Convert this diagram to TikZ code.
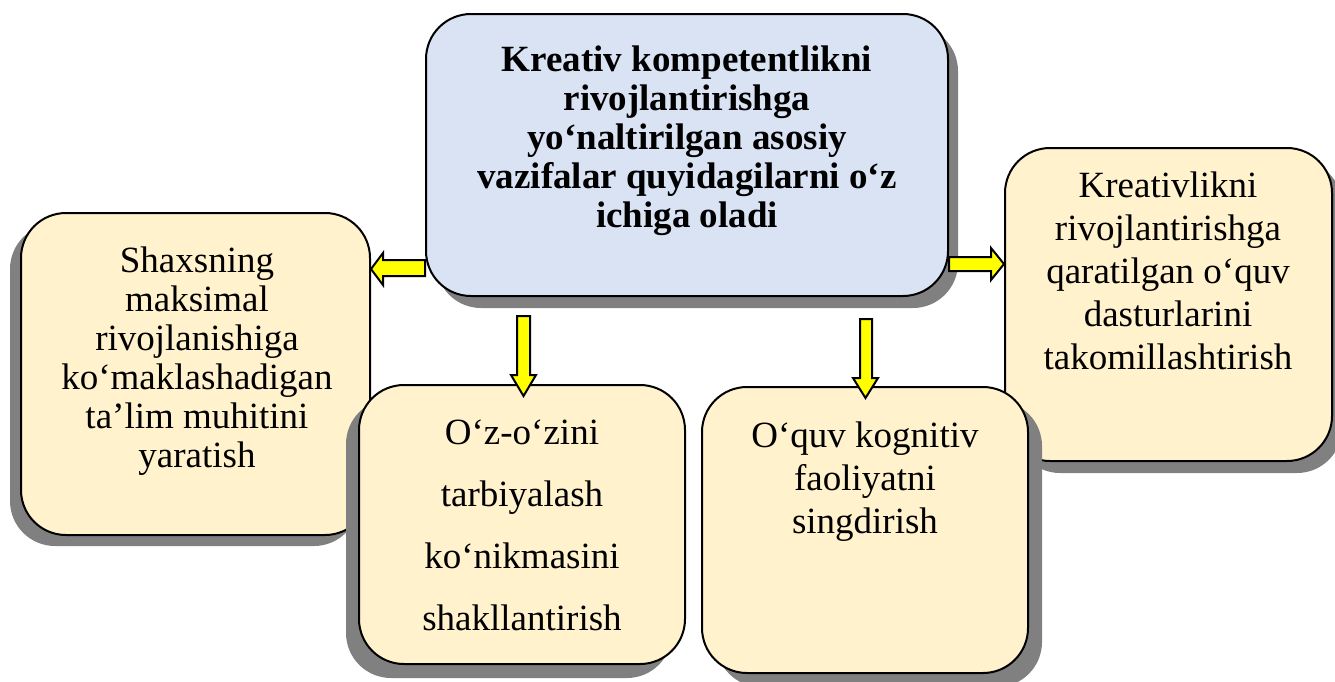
\documentclass[tikz,border=0pt]{standalone}
\usepackage{fontspec}
\setmainfont{Liberation Serif}
\usetikzlibrary{shadows}
\definecolor{cblue}{HTML}{DAE3F3}
\definecolor{ccream}{HTML}{FFF2CC}
\definecolor{cshadow}{HTML}{808080}
\definecolor{cyell}{HTML}{FFFF00}
\tikzset{
  box/.style={draw=black, line width=2pt, rounded corners=45pt, fill=ccream, inner sep=0pt},
  sh/.style 2 args={general shadow={fill=cshadow, shadow xshift=#1pt, shadow yshift=#2pt}},
  txt/.style={align=center, inner sep=0pt, font=\fontsize{37}{39}\selectfont},
  blk/.style={draw=black, line width=2pt, fill=cyell, line join=miter}
}
\begin{document}
\begin{tikzpicture}[x=1pt,y=1pt]
\useasboundingbox (0,0) rectangle (1335,-681);
% boxes
\node[box, fill=cblue, sh={10}{-12}, minimum width=522pt, minimum height=282pt] (C) at (687,-155) {};
\node[box, sh={-11}{-11}, minimum width=349pt, minimum height=322pt] (L) at (195.5,-374) {};
\node[box, sh={-13}{-14}, minimum width=326pt, minimum height=279pt] (B2) at (522,-524.5) {};
\node[box, sh={10}{-12}, minimum width=327pt, minimum height=313pt] (R) at (1168.5,-304.5) {};
\node[box, sh={14}{-14}, minimum width=326pt, minimum height=286pt] (B3) at (865,-530) {};
% texts
\node[txt, font=\fontsize{37}{39}\selectfont\bfseries] (tc) at (687,-141) {Kreativ kompetentlikni\\rivojlantirishga\\yo‘naltirilgan asosiy\\vazifalar quyidagilarni o‘z\\ichiga oladi};
\node[txt] (tl) at (197,-361) {Shaxsning\\maksimal\\rivojlanishiga\\ko‘maklashadigan\\ta’lim muhitini\\yaratish};
\node[txt, font=\fontsize{37}{62}\selectfont] (t2) at (522,-525) {O‘z-o‘zini\\tarbiyalash\\ko‘nikmasini\\shakllantirish};
\node[txt, font=\fontsize{37}{43}\selectfont] (t3) at (865,-482) {O‘quv kognitiv\\faoliyatni\\singdirish};
\node[txt, font=\fontsize{37}{43}\selectfont] (tr) at (1168,-271) {Kreativlikni\\rivojlantirishga\\qaratilgan o‘quv\\dasturlarini\\takomillashtirish};
% block arrows
\draw[blk] (C.west |- 0,-260) -- (383,-260) -- (383,-253) -- (L.east |- 0,-269) -- (383,-285) -- (383,-276) -- (C.west |- 0,-276) -- cycle;
\draw[blk] (C.east |- 0,-257) -- (991,-257) -- (991,-248) -- (R.west |- 0,-264) -- (991,-280) -- (991,-271) -- (C.east |- 0,-271) -- cycle;
\draw[blk] (517,-316) -- (517,-375) -- (511,-375) -- (523.5,-396) -- (536,-375) -- (530,-375) -- (530,-316) -- cycle;
\draw[blk] (860,-319) -- (860,-378) -- (853,-378) -- (865.5,-398) -- (878,-378) -- (872,-378) -- (872,-319) -- cycle;
\end{tikzpicture}
\end{document}
